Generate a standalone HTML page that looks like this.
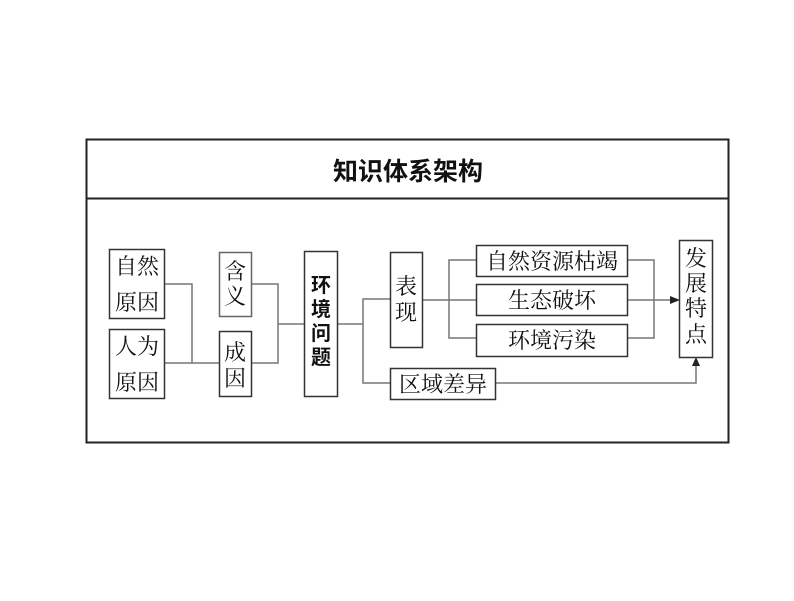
<!DOCTYPE html>
<html><head><meta charset="utf-8"><style>
body{margin:0;background:#fff;width:794px;height:596px;overflow:hidden}
</style></head><body>
<svg width="794" height="596" xmlns="http://www.w3.org/2000/svg">
<rect x="86.5" y="139.5" width="642" height="303" fill="none" stroke="#222" stroke-width="2"/>
<line x1="86" y1="198.5" x2="729" y2="198.5" stroke="#222" stroke-width="2"/>
<text x="408" y="180" text-anchor="middle" font-family="Liberation Sans,'Noto Sans CJK SC',sans-serif" font-weight="bold" font-size="25" fill="#111">知识体系架构</text>
<g fill="none" stroke="#777" stroke-width="1.5">
<polyline points="164,284 192,284 192,363"/>
<line x1="164" y1="363" x2="219" y2="363"/>
<polyline points="251,284 278,284 278,363 251,363"/>
<line x1="278" y1="324" x2="304" y2="324"/>
<line x1="337" y1="324" x2="363" y2="324"/>
<polyline points="390,299 363,299 363,383 390,383"/>
<line x1="422" y1="300" x2="476" y2="300"/>
<polyline points="476,260 449,260 449,338 476,338"/>
<polyline points="627,260 654,260 654,338 627,338"/>
<line x1="627" y1="300" x2="672" y2="300"/>
<polyline points="495,383 696,383 696,365"/>
</g>
<polygon points="680,300 670,296 670,304" fill="#222"/>
<polygon points="696,357 692,366 700,366" fill="#222"/>
<g fill="#fff" stroke="#333" stroke-width="1.5">
<rect x="109.5" y="249.5" width="55" height="69"/>
<rect x="109.5" y="329.5" width="55" height="69"/>
<rect x="219.5" y="252.5" width="32" height="64" stroke="#666"/>
<rect x="219.5" y="331.5" width="32" height="65"/>
<rect x="304.5" y="251.5" width="33" height="145"/>
<rect x="390.5" y="252.5" width="32" height="95"/>
<rect x="390.5" y="368.5" width="105" height="31"/>
<rect x="476.5" y="245.5" width="151" height="31"/>
<rect x="476.5" y="284.5" width="151" height="31"/>
<rect x="476.5" y="324.5" width="151" height="32"/>
<rect x="679.5" y="240.5" width="33" height="117"/>
</g>
<g font-family="Liberation Serif,'Noto Serif CJK SC',serif" font-size="22" fill="#111" text-anchor="middle">
<text x="137" y="274">自然</text><text x="137" y="310">原因</text>
<text x="137" y="354">人为</text><text x="137" y="390">原因</text>
<text x="235" y="279">含</text><text x="235" y="304">义</text>
<text x="235" y="360">成</text><text x="235" y="386">因</text>
<text x="406" y="294">表</text><text x="406" y="320">现</text>
<text x="443" y="392">区域差异</text>
<text x="552" y="269">自然资源枯竭</text>
<text x="552" y="308">生态破坏</text>
<text x="552" y="348">环境污染</text>
<text x="696" y="266">发</text><text x="696" y="291">展</text><text x="696" y="316">特</text><text x="696" y="342">点</text>
</g>
<g font-family="Liberation Sans,'Noto Sans CJK SC',sans-serif" font-weight="bold" font-size="20" fill="#111" text-anchor="middle">
<text x="321" y="292">环</text><text x="321" y="316">境</text><text x="321" y="340">问</text><text x="321" y="364">题</text>
</g>
</svg>
</body></html>
